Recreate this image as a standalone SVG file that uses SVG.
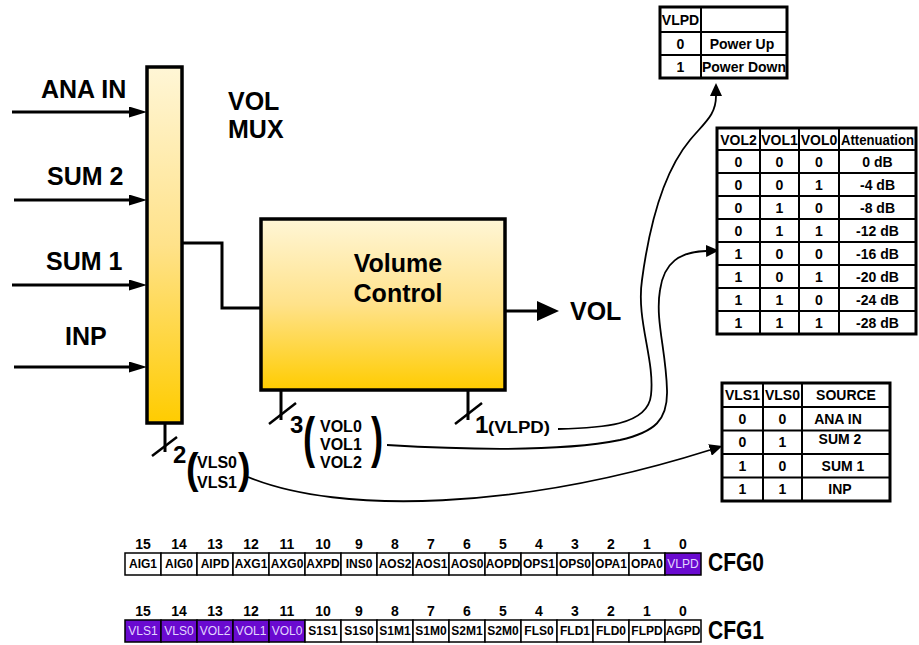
<svg xmlns="http://www.w3.org/2000/svg" width="919" height="645" viewBox="0 0 919 645">
<defs>
<linearGradient id="gold" x1="0" y1="0" x2="0" y2="1">
<stop offset="0" stop-color="#FFF6D6"/>
<stop offset="0.5" stop-color="#FFE28A"/>
<stop offset="1" stop-color="#FFCC00"/>
</linearGradient>
<marker id="ah" viewBox="0 -5.5 18 11" refX="0" refY="0" markerWidth="18" markerHeight="11" markerUnits="userSpaceOnUse" orient="auto"><path d="M0,-5.5 L18,0 L0,5.5 z" fill="#000"/></marker>
<marker id="ahb" viewBox="0 -10 22 20" refX="0" refY="0" markerWidth="22" markerHeight="20" markerUnits="userSpaceOnUse" orient="auto"><path d="M0,-10 L22,0 L0,10 z" fill="#000"/></marker>
<marker id="ahs" viewBox="0 -6 13 12" refX="0" refY="0" markerWidth="13" markerHeight="12" markerUnits="userSpaceOnUse" orient="auto"><path d="M0,-6 L13,0 L0,6 z" fill="#000"/></marker>
</defs>
<style>
text{font-family:"Liberation Sans",Arial,sans-serif;font-weight:bold;fill:#000}
.big{font-size:25px}
.mid{text-anchor:middle}
.sub{font-size:16px}
.tb{font-size:14px;text-anchor:middle}
.reg{font-size:12px;text-anchor:middle}
.num{font-size:14px;text-anchor:middle}
.cell{fill:#fff;stroke:#000;stroke-width:1.5}
.pcell{fill:#6A0AD0;stroke:#000;stroke-width:1.5}
.ptxt{fill:#E2D6FF;font-weight:normal}
.thick{stroke:#000;stroke-width:3;fill:none}
.tick{stroke:#000;stroke-width:2.5;fill:none}
.curve{stroke:#000;stroke-width:1.8;fill:none}
.tbl{fill:#fff;stroke:#000;stroke-width:3}
.grid{stroke:#000;stroke-width:2;fill:none}
.block{fill:url(#gold);stroke:#000;stroke-width:3.5}
</style>

<g id="input-labels">
<text class="big" x="41" y="98">ANA IN</text>
<text class="big" x="47" y="185">SUM 2</text>
<text class="big" x="46" y="270">SUM 1</text>
<text class="big" x="65" y="345">INP</text>
</g>

<g id="vol-mux">
<rect class="block" x="147" y="67" width="35" height="356"/>
<text class="big" x="228" y="110">VOL</text>
<text class="big" x="228" y="138">MUX</text>
</g>

<g id="volume-control">
<rect class="block" x="261" y="219" width="244" height="171"/>
<text class="big mid" x="398" y="272">Volume</text>
<text class="big mid" x="398" y="302">Control</text>
</g>

<g id="vol-output">
<text class="big" x="570" y="320">VOL</text>
</g>

<g id="connectors">
<line class="thick" x1="12" y1="112" x2="129" y2="112" marker-end="url(#ah)"/>
<line class="thick" x1="14" y1="200" x2="129" y2="200" marker-end="url(#ah)"/>
<line class="thick" x1="12" y1="285" x2="129" y2="285" marker-end="url(#ah)"/>
<line class="thick" x1="14" y1="367" x2="129" y2="367" marker-end="url(#ah)"/>
<polyline class="thick" points="182,243 222,243 222,308 261,308"/>
<line class="thick" x1="505" y1="311" x2="537" y2="311" marker-end="url(#ahb)"/>
<line class="thick" x1="165" y1="423" x2="165" y2="452"/>
<line class="tick" x1="152" y1="456" x2="177" y2="437"/>
<line class="thick" x1="281" y1="390" x2="281" y2="420"/>
<line class="tick" x1="269" y1="424" x2="296" y2="403"/>
<line class="thick" x1="468" y1="390" x2="468" y2="420"/>
<line class="tick" x1="455" y1="424" x2="482" y2="403"/>
<path class="curve" d="M558,429 C600,428 648,426 651,395 C655,360 636,320 642,280 C650,220 665,170 690,140 C705,122 716,115 716,96" marker-end="url(#ahs)"/>
<path class="curve" d="M387,445 C470,450 560,452 620,440 C655,432 668,420 667,390 C666,350 655,320 660,290 C664,262 680,252 706,251" marker-end="url(#ahs)"/>
<path class="curve" d="M248,477 C340,515 520,510 710,450" marker-end="url(#ahs)"/>
</g>

<g id="bus-labels">
<text class="big" x="173" y="463" style="font-size:24px">2</text>
<text transform="translate(186,483) scale(0.9,1)" style="font-size:42px">(</text>
<text class="sub" x="197" y="468">VLS0</text>
<text class="sub" x="197" y="488">VLS1</text>
<text transform="translate(238,483) scale(0.9,1)" style="font-size:42px">)</text>
<text class="big" x="290" y="433" style="font-size:24px">3</text>
<text transform="translate(303,456) scale(0.65,1)" style="font-size:56px">(</text>
<text class="sub" x="320" y="432">VOL0</text>
<text class="sub" x="320" y="450">VOL1</text>
<text class="sub" x="320" y="468">VOL2</text>
<text transform="translate(371,456) scale(0.65,1)" style="font-size:56px">)</text>
<text class="big" x="475" y="433" style="font-size:24px">1</text>
<text class="sub" x="488" y="433" textLength="62" lengthAdjust="spacingAndGlyphs">(VLPD)</text>
</g>

<g id="vlpd-table">
<rect class="tbl" x="660" y="7" width="127" height="71"/>
<path class="grid" d="M660,32 H787 M660,55 H787 M701,7 V78"/>
<text class="tb" x="680.5" y="25">VLPD</text>
<text class="tb" x="680.5" y="49">0</text>
<text class="tb" x="742" y="49">Power Up</text>
<text class="tb" x="680.5" y="72">1</text>
<text class="tb" x="744" y="72">Power Down</text>
</g>

<g id="attenuation-table">
<rect class="tbl" x="717" y="128" width="199" height="206"/>
<path class="grid" d="M717,150 H916 M717,173 H916 M717,196 H916 M717,219 H916 M717,242 H916 M717,265 H916 M717,288 H916 M717,311 H916 M760,128 V334 M799,128 V334 M839,128 V334"/>
<text class="tb" x="738.5" y="144.5">VOL2</text>
<text class="tb" x="779.5" y="144.5">VOL1</text>
<text class="tb" x="819" y="144.5">VOL0</text>
<text class="tb" x="877.5" y="144.5" textLength="73" lengthAdjust="spacingAndGlyphs">Attenuation</text>
<text class="tb" x="738.5" y="166.5">0</text><text class="tb" x="779.5" y="166.5">0</text><text class="tb" x="819" y="166.5">0</text><text class="tb" x="877.5" y="166.5">0 dB</text>
<text class="tb" x="738.5" y="189.5">0</text><text class="tb" x="779.5" y="189.5">0</text><text class="tb" x="819" y="189.5">1</text><text class="tb" x="877.5" y="189.5">-4 dB</text>
<text class="tb" x="738.5" y="212.5">0</text><text class="tb" x="779.5" y="212.5">1</text><text class="tb" x="819" y="212.5">0</text><text class="tb" x="877.5" y="212.5">-8 dB</text>
<text class="tb" x="738.5" y="235.5">0</text><text class="tb" x="779.5" y="235.5">1</text><text class="tb" x="819" y="235.5">1</text><text class="tb" x="877.5" y="235.5">-12 dB</text>
<text class="tb" x="738.5" y="258.5">1</text><text class="tb" x="779.5" y="258.5">0</text><text class="tb" x="819" y="258.5">0</text><text class="tb" x="877.5" y="258.5">-16 dB</text>
<text class="tb" x="738.5" y="281.5">1</text><text class="tb" x="779.5" y="281.5">0</text><text class="tb" x="819" y="281.5">1</text><text class="tb" x="877.5" y="281.5">-20 dB</text>
<text class="tb" x="738.5" y="304.5">1</text><text class="tb" x="779.5" y="304.5">1</text><text class="tb" x="819" y="304.5">0</text><text class="tb" x="877.5" y="304.5">-24 dB</text>
<text class="tb" x="738.5" y="327.5">1</text><text class="tb" x="779.5" y="327.5">1</text><text class="tb" x="819" y="327.5">1</text><text class="tb" x="877.5" y="327.5">-28 dB</text>
</g>

<g id="source-table">
<rect class="tbl" x="722" y="383" width="168" height="118"/>
<path class="grid" d="M722,407 H890 M722,430.5 H890 M722,454 H890 M722,477.5 H890 M763,383 V501 M802,383 V501"/>
<text class="tb" x="742.5" y="400">VLS1</text>
<text class="tb" x="782.5" y="400">VLS0</text>
<text class="tb" x="846" y="400">SOURCE</text>
<text class="tb" x="742.5" y="424">0</text><text class="tb" x="782.5" y="424">0</text><text class="tb" x="838" y="424">ANA IN</text>
<text class="tb" x="742.5" y="447">0</text><text class="tb" x="782.5" y="447">1</text><text class="tb" x="840" y="444">SUM 2</text>
<text class="tb" x="742.5" y="471">1</text><text class="tb" x="782.5" y="471">0</text><text class="tb" x="843" y="471">SUM 1</text>
<text class="tb" x="742.5" y="494">1</text><text class="tb" x="782.5" y="494">1</text><text class="tb" x="840" y="494">INP</text>
</g>

<g id="cfg0">
<g class="nums">
<text class="num" x="143" y="549">15</text><text class="num" x="179" y="549">14</text><text class="num" x="215" y="549">13</text><text class="num" x="251" y="549">12</text>
<text class="num" x="287" y="549">11</text><text class="num" x="323" y="549">10</text><text class="num" x="359" y="549">9</text><text class="num" x="395" y="549">8</text>
<text class="num" x="431" y="549">7</text><text class="num" x="467" y="549">6</text><text class="num" x="503" y="549">5</text><text class="num" x="539" y="549">4</text>
<text class="num" x="575" y="549">3</text><text class="num" x="611" y="549">2</text><text class="num" x="647" y="549">1</text><text class="num" x="683" y="549">0</text>
</g>
<rect class="cell" x="125" y="553" width="36" height="22"/><rect class="cell" x="161" y="553" width="36" height="22"/>
<rect class="cell" x="197" y="553" width="36" height="22"/><rect class="cell" x="233" y="553" width="36" height="22"/>
<rect class="cell" x="269" y="553" width="36" height="22"/><rect class="cell" x="305" y="553" width="36" height="22"/>
<rect class="cell" x="341" y="553" width="36" height="22"/><rect class="cell" x="377" y="553" width="36" height="22"/>
<rect class="cell" x="413" y="553" width="36" height="22"/><rect class="cell" x="449" y="553" width="36" height="22"/>
<rect class="cell" x="485" y="553" width="36" height="22"/><rect class="cell" x="521" y="553" width="36" height="22"/>
<rect class="cell" x="557" y="553" width="36" height="22"/><rect class="cell" x="593" y="553" width="36" height="22"/>
<rect class="cell" x="629" y="553" width="36" height="22"/><rect class="pcell" x="665" y="553" width="36" height="22"/>
<text class="reg" x="143" y="568">AIG1</text><text class="reg" x="179" y="568">AIG0</text><text class="reg" x="215" y="568">AIPD</text><text class="reg" x="251" y="568">AXG1</text>
<text class="reg" x="287" y="568">AXG0</text><text class="reg" x="323" y="568">AXPD</text><text class="reg" x="359" y="568">INS0</text><text class="reg" x="395" y="568">AOS2</text>
<text class="reg" x="431" y="568">AOS1</text><text class="reg" x="467" y="568">AOS0</text><text class="reg" x="503" y="568">AOPD</text><text class="reg" x="539" y="568">OPS1</text>
<text class="reg" x="575" y="568">OPS0</text><text class="reg" x="611" y="568">OPA1</text><text class="reg" x="647" y="568">OPA0</text><text class="reg ptxt" x="683" y="568">VLPD</text>
<text class="big" x="708" y="571" style="font-size:26px" textLength="56" lengthAdjust="spacingAndGlyphs">CFG0</text>
</g>

<g id="cfg1">
<g class="nums">
<text class="num" x="143" y="616">15</text><text class="num" x="179" y="616">14</text><text class="num" x="215" y="616">13</text><text class="num" x="251" y="616">12</text>
<text class="num" x="287" y="616">11</text><text class="num" x="323" y="616">10</text><text class="num" x="359" y="616">9</text><text class="num" x="395" y="616">8</text>
<text class="num" x="431" y="616">7</text><text class="num" x="467" y="616">6</text><text class="num" x="503" y="616">5</text><text class="num" x="539" y="616">4</text>
<text class="num" x="575" y="616">3</text><text class="num" x="611" y="616">2</text><text class="num" x="647" y="616">1</text><text class="num" x="683" y="616">0</text>
</g>
<rect class="pcell" x="125" y="620" width="36" height="22"/><rect class="pcell" x="161" y="620" width="36" height="22"/>
<rect class="pcell" x="197" y="620" width="36" height="22"/><rect class="pcell" x="233" y="620" width="36" height="22"/>
<rect class="pcell" x="269" y="620" width="36" height="22"/><rect class="cell" x="305" y="620" width="36" height="22"/>
<rect class="cell" x="341" y="620" width="36" height="22"/><rect class="cell" x="377" y="620" width="36" height="22"/>
<rect class="cell" x="413" y="620" width="36" height="22"/><rect class="cell" x="449" y="620" width="36" height="22"/>
<rect class="cell" x="485" y="620" width="36" height="22"/><rect class="cell" x="521" y="620" width="36" height="22"/>
<rect class="cell" x="557" y="620" width="36" height="22"/><rect class="cell" x="593" y="620" width="36" height="22"/>
<rect class="cell" x="629" y="620" width="36" height="22"/><rect class="cell" x="665" y="620" width="36" height="22"/>
<text class="reg ptxt" x="143" y="635">VLS1</text><text class="reg ptxt" x="179" y="635">VLS0</text><text class="reg ptxt" x="215" y="635">VOL2</text><text class="reg ptxt" x="251" y="635">VOL1</text>
<text class="reg ptxt" x="287" y="635">VOL0</text><text class="reg" x="323" y="635">S1S1</text><text class="reg" x="359" y="635">S1S0</text><text class="reg" x="395" y="635">S1M1</text>
<text class="reg" x="431" y="635">S1M0</text><text class="reg" x="467" y="635">S2M1</text><text class="reg" x="503" y="635">S2M0</text><text class="reg" x="539" y="635">FLS0</text>
<text class="reg" x="575" y="635">FLD1</text><text class="reg" x="611" y="635">FLD0</text><text class="reg" x="647" y="635">FLPD</text><text class="reg" x="683" y="635">AGPD</text>
<text class="big" x="708" y="639" style="font-size:25px" textLength="56" lengthAdjust="spacingAndGlyphs">CFG1</text>
</g>
</svg>
